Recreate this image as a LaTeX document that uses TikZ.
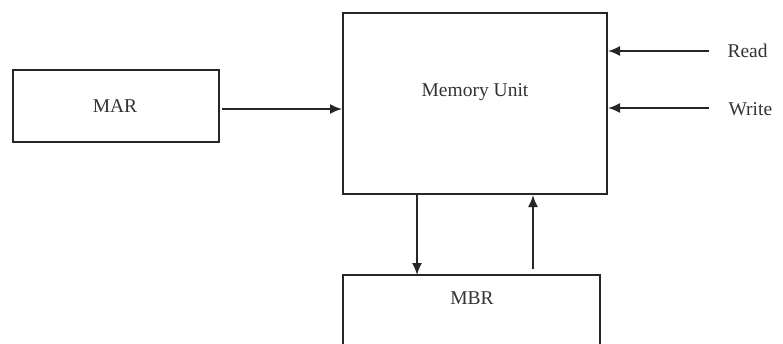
\documentclass[tikz,border=0pt]{standalone}
\usepackage{fontspec}
\setmainfont{Liberation Serif}
\usetikzlibrary{arrows.meta}
\begin{document}
\begin{tikzpicture}[x=1pt,y=-1pt,
  box/.style={draw=black!85, line width=2pt, inner sep=0pt, anchor=north west},
  lbl/.style={font=\fontsize{19.5}{23}\selectfont, text=black!80},
  arr/.style={draw=black!85, line width=1.8pt, -{Latex[length=12pt,width=10pt]}}]
\useasboundingbox (0,0) rectangle (783,343);
\fill[white] (0,0) rectangle (783,343);
% boxes
\node[box, minimum width=206pt, minimum height=72pt] (mar) at (12,69) {};
\node[box, minimum width=264pt, minimum height=181pt] (mem) at (342,12) {};
\node[inner sep=0pt, minimum width=257pt, minimum height=80pt, anchor=north west] (mbr) at (343,275) {};
\draw[draw=black!85, line width=2pt] (mbr.south west) -- (mbr.north west) -- (mbr.north east) -- (mbr.south east);
% labels
\node[lbl] (tmar) at (115,106) {MAR};
\node[lbl] (tmem) at (475,92) {Memory Unit};
\node[lbl] (tmbr) at (472,298) {MBR};
\node[lbl, anchor=west] (tread) at (724,51) {Read};
\node[lbl, anchor=west] (twrite) at (725,109) {Write};
% connectors
\coordinate (marout) at (222,109);
\draw[arr] (marout) -- (mem.west |- marout);
\coordinate (rd) at (709,51);
\coordinate (wr) at (709,108);
\draw[arr] (rd) -- (mem.east |- rd);
\draw[arr] (wr) -- (mem.east |- wr);
\coordinate (dn) at (417,193);
\draw[arr] (mem.south -| dn) -- (mbr.north -| dn);
\coordinate (up) at (533,269);
\draw[arr] (up) -- (mem.south -| up);
\end{tikzpicture}
\end{document}
